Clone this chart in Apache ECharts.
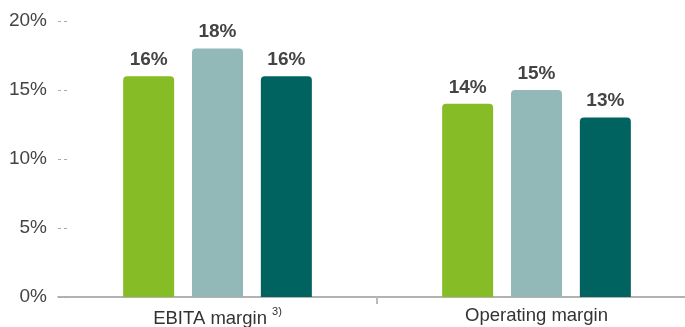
<!DOCTYPE html>
<html>
<head>
<meta charset="utf-8">
<script src="https://cdn.jsdelivr.net/npm/echarts@6/dist/echarts.min.js"></script>
<style>
  html, body { margin: 0; padding: 0; background: #fff; }
  #chart { width: 685px; height: 327px; }
</style>
</head>
<body>
<div id="chart"></div>
<script>
// Margin figures in percent
const categories = ['EBITA margin', 'Operating margin'];
const periodA = [16, 14];
const periodB = [18, 15];
const periodC = [16, 13];
const yTicks = [0, 5, 10, 15, 20];

const colors = ['#86bc25', '#92b9b7', '#00635f'];
const font = '"Liberation Sans", Arial, Helvetica, sans-serif';

const chart = echarts.init(document.getElementById('chart'));

function barSeries(name, data, color) {
  return {
    name: name,
    type: 'bar',
    data: data,
    barWidth: 51,
    barGap: '35%',
    itemStyle: { color: color, borderRadius: [4, 4, 0, 0] },
    label: {
      show: true,
      position: 'top',
      distance: 7,
      formatter: p => p.value + '%',
      color: '#444',
      fontFamily: font,
      fontSize: 19,
      fontWeight: 'bold'
    }
  };
}

chart.setOption({
  animation: false,
  grid: {
    left: 58, top: 21, width: 638, bottom: 30,
    containLabel: false,
    outerBoundsMode: 'none'
  },
  xAxis: [
    {
      type: 'category',
      data: categories,
      axisLine: { lineStyle: { color: '#999', width: 1.5 } },
      axisTick: { show: false },
      axisLabel: {
        margin: 9,
        fontFamily: font,
        fontSize: 18.5,
        color: '#333',
        formatter: v => v === 'EBITA margin' ? v + ' {sup|3)}' : v,
        rich: {
          sup: { fontSize: 11, verticalAlign: 'top', padding: [0, 0, 14, 0], color: '#333', fontFamily: font }
        }
      }
    },
    {
      // divider tick between the two category groups
      type: 'value',
      position: 'bottom',
      min: 0,
      max: categories.length,
      axisLine: { show: false },
      splitLine: { show: false },
      axisLabel: { show: false },
      axisTick: {
        show: true,
        length: 7,
        customValues: [1],
        lineStyle: { color: '#bbb', width: 2 }
      }
    }
  ],
  yAxis: {
    type: 'value',
    min: yTicks[0],
    max: yTicks[yTicks.length - 1],
    interval: 5,
    axisLine: { show: false },
    splitLine: { show: false },
    axisTick: {
      show: true,
      inside: true,
      length: 12,
      lineStyle: { color: '#aaa', type: [3, 3], width: 1 }
    },
    axisLabel: {
      margin: 11,
      fontFamily: font,
      fontSize: 19,
      color: '#444',
      formatter: v => v + '%'
    }
  },
  series: [
    barSeries('Period A', periodA, colors[0]),
    barSeries('Period B', periodB, colors[1]),
    barSeries('Period C', periodC, colors[2])
  ]
});
</script>
</body>
</html>
